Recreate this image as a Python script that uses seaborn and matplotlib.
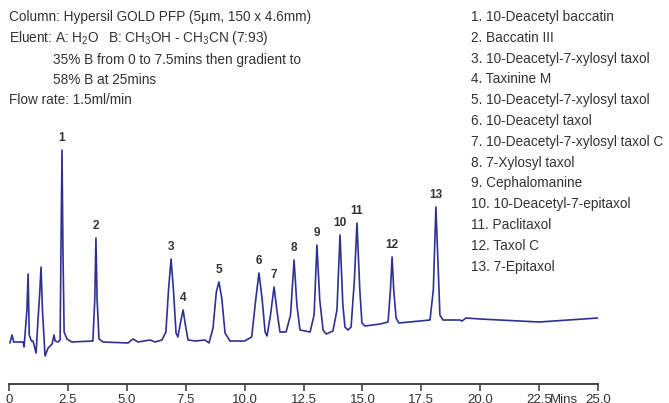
import numpy as np
import pandas as pd
import seaborn as sns
import matplotlib
matplotlib.use("Agg")
import matplotlib.pyplot as plt

# chromatogram trace (time in min, signal in arbitrary units)
time = [0.04, 0.13, 0.20, 0.60, 0.64, 0.76, 0.81, 0.86, 0.95, 1.02,
        1.15, 1.23, 1.30, 1.36, 1.42, 1.53, 1.66, 1.83, 1.91, 1.96,
        2.08, 2.17, 2.21, 2.25, 2.29, 2.34, 2.46, 2.67, 3.56, 3.64,
        3.69, 3.74, 3.82, 3.99, 5.05, 5.26, 5.48, 5.98, 6.20, 6.49,
        6.66, 6.77, 6.88, 6.98, 7.09, 7.17, 7.30, 7.39, 7.48, 7.60,
        7.90, 8.32, 8.49, 8.66, 8.80, 8.91, 9.03, 9.17, 9.38, 10.00,
        10.30, 10.48, 10.61, 10.74, 10.87, 10.95, 11.10, 11.25, 11.38, 11.50,
        11.76, 11.95, 12.10, 12.22, 12.35, 12.78, 12.95, 13.07, 13.19, 13.33,
        13.46, 13.75, 13.92, 14.05, 14.17, 14.26, 14.39, 14.52, 14.66, 14.77,
        14.89, 14.98, 15.11, 15.75, 16.09, 16.19, 16.26, 16.33, 16.43, 16.55,
        17.44, 17.87, 18.01, 18.12, 18.22, 18.29, 18.42, 19.14, 19.23, 19.40,
        19.99, 22.50, 25.00]
signal = [17, 25, 18, 18, 13, 50, 86, 25, 19, 19,
          7, 40, 65, 93, 50, 4, 12, 16, 25, 19,
          18, 20, 120, 210, 110, 28, 21, 18, 19, 60,
          122, 60, 21, 18, 17, 21, 18, 20, 18, 20,
          28, 70, 101, 70, 27, 23, 40, 50, 36, 20,
          19, 20, 17, 32, 68, 78, 62, 27, 19, 19,
          23, 62, 87, 62, 28, 24, 45, 73, 48, 28,
          28, 45, 100, 55, 30, 28, 45, 115, 60, 30,
          26, 29, 50, 125, 55, 33, 30, 33, 80, 137,
          70, 37, 34, 36, 38, 70, 103, 70, 42, 37,
          39, 40, 70, 153, 90, 45, 40, 40, 39, 42,
          41, 38, 42]
assert len(time) == len(signal)

peak_labels = ["1", "2", "3", "4", "5", "6", "7", "8", "9", "10", "11", "12", "13"]
peak_times = [2.25, 3.69, 6.88, 7.39, 8.91, 10.61, 11.25, 12.10, 13.07, 14.05, 14.77, 16.26, 18.12]

compounds = ["1. 10-Deacetyl baccatin", "2. Baccatin III", "3. 10-Deacetyl-7-xylosyl taxol",
             "4. Taxinine M", "5. 10-Deacetyl-7-xylosyl taxol", "6. 10-Deacetyl taxol",
             "7. 10-Deacetyl-7-xylosyl taxol C", "8. 7-Xylosyl taxol", "9. Cephalomanine",
             "10. 10-Deacetyl-7-epitaxol", "11. Paclitaxol", "12. Taxol C", "13. 7-Epitaxol"]

tick_values = [0, 2.5, 5.0, 7.5, 10.0, 12.5, 15.0, 17.5, 20.0, 22.5, 25.0]
tick_labels = ["0", "2.5", "5.0", "7.5", "10.0", "12.5", "15.0", "17.5", "20.0", "22.5", "25.0"]

sns.set_style("white")
plt.rcParams["font.family"] = ["Liberation Sans", "DejaVu Sans"]
plt.rcParams["mathtext.default"] = "regular"

W, H = 669, 403
txt_col = "#333333"
fig = plt.figure(figsize=(W / 100, H / 100), dpi=100)
ax = fig.add_axes([9 / W, (H - 384) / H, (598 - 9) / W, 384 / H])

df = pd.DataFrame({"time": time, "signal": signal})
sns.lineplot(data=df, x="time", y="signal", ax=ax, color="#2e3192", lw=1.2)

ax.set_xlim(0, 25)
ax.set_ylim(-24, 360)
ax.set_xlabel("")
ax.set_ylabel("")
ax.set_yticks([])
ax.set_xticks(tick_values)
ax.set_xticklabels(tick_labels)
ax.tick_params(axis="x", bottom=True, direction="out", length=5, width=1.2,
               color="#444444", labelsize=9.5, labelcolor=txt_col, pad=2)
for s in ["left", "right", "top"]:
    ax.spines[s].set_visible(False)
ax.spines["bottom"].set_color("#444444")
ax.spines["bottom"].set_linewidth(1.4)
ax.patch.set_alpha(0)

t_arr = np.array(time)
s_arr = np.array(signal)
for lab, pt in zip(peak_labels, peak_times):
    top = s_arr[np.abs(t_arr - pt) < 0.06].max()
    ax.text(pt, top + 6, lab, ha="center", va="bottom", fontsize=8.5,
            fontweight="bold", color=txt_col)

ax.annotate("Mins", xy=(23.55, 0), xycoords=("data", "axes fraction"),
            xytext=(0, -7), textcoords="offset points", ha="center", va="top",
            fontsize=9.5, color=txt_col)


def fx(px):
    return px / W


def fy(py):
    return 1 - py / H


# size the header text so the first line spans the same width as in the reference
fig.canvas.draw()
probe = fig.text(0, 0, "Column: Hypersil GOLD PFP (5\u00b5m, 150 x 4.6mm)", fontsize=10)
w10 = probe.get_window_extent(fig.canvas.get_renderer()).width
probe.remove()
fs = 10 * 303 / w10

fig.text(fx(9), fy(17), "Column: Hypersil GOLD PFP (5\u00b5m, 150 x 4.6mm)",
         fontsize=fs, color=txt_col, va="center")
fig.text(fx(9), fy(38), "Eluent: A: H$_2$O", fontsize=fs, color=txt_col, va="center")
fig.text(fx(108), fy(38), "B: CH$_3$OH - CH$_3$CN (7:93)", fontsize=fs, color=txt_col, va="center")
fig.text(fx(53), fy(60), "35% B from 0 to 7.5mins then gradient to", fontsize=fs,
         color=txt_col, va="center")
fig.text(fx(53), fy(80), "58% B at 25mins", fontsize=fs, color=txt_col, va="center")
fig.text(fx(9), fy(100), "Flow rate: 1.5ml/min", fontsize=fs, color=txt_col, va="center")

for i, c in enumerate(compounds):
    fig.text(fx(471), fy(17 + i * 20.8), c, fontsize=fs, color=txt_col, va="center")

fig.savefig("out.png", dpi=100)
